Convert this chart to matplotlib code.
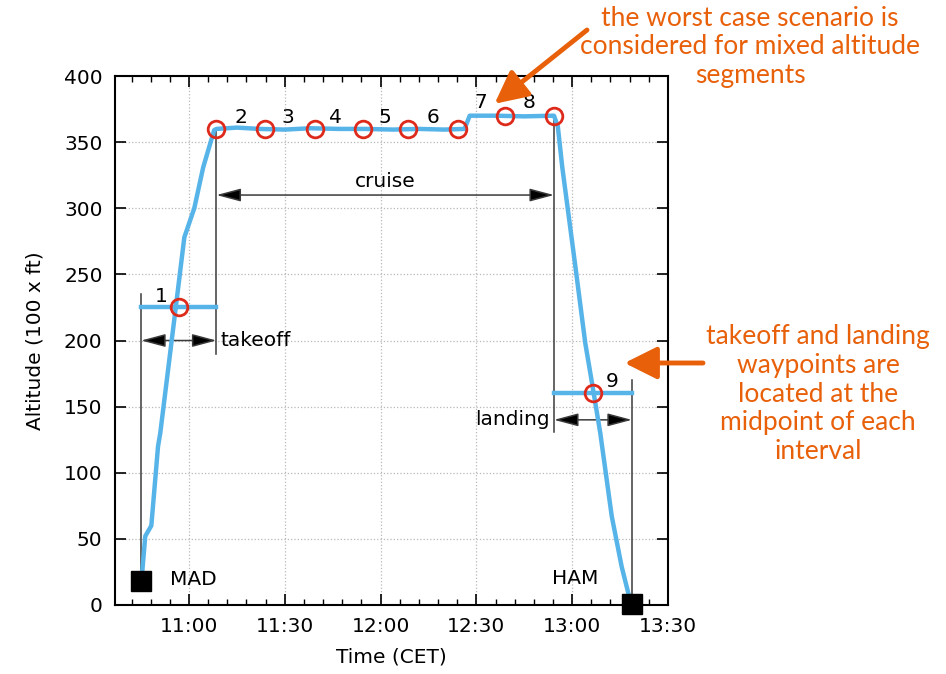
import matplotlib
matplotlib.use("Agg")
import matplotlib.pyplot as plt
from matplotlib.ticker import FuncFormatter, MultipleLocator


def to_min(hms):
    # "HH:MM:SS" -> minutes after midnight
    h, m, s = (int(v) for v in hms.split(":"))
    return h * 60 + m + s / 60.0


# flight profile MAD -> HAM
profile_time = ["10:45:00", "10:46:18", "10:48:12", "10:50:18", "10:51:00", "10:55:39",
                "10:58:32", "11:01:39", "11:04:27", "11:07:52", "11:08:36",
                "11:15:00", "11:22:00", "11:30:00", "11:38:00", "11:47:00", "11:55:00",
                "12:04:00", "12:12:00", "12:20:00", "12:26:18", "12:27:54",
                "12:36:00", "12:45:00", "12:54:18",
                "12:55:30", "12:56:54", "13:01:00", "13:04:06", "13:06:12", "13:08:48",
                "13:12:24", "13:15:30", "13:18:24"]
profile_alt = [15, 52, 60, 120, 130, 221,
               278, 300, 331, 359, 360,
               361, 360, 359.5, 360.5, 360, 360,
               359.5, 360, 359.5, 360, 370,
               370, 369.5, 370,
               362, 331, 256, 198, 168, 130,
               67, 29, 1]

# waypoints (red circles)
wp_time = ["10:56:48", "11:08:36", "11:23:48", "11:39:24", "11:54:24", "12:08:30",
           "12:24:12", "12:39:00", "12:54:18", "13:06:30"]
wp_alt = [225, 360, 360, 360, 360, 360, 360, 370, 370, 160]

# waypoint numbers
lbl_text = ["1", "2", "3", "4", "5", "6", "7", "8", "9"]
lbl_time = ["10:51:12", "11:16:24", "11:31:06", "11:46:00", "12:01:12", "12:16:30",
            "12:31:24", "12:46:30", "13:12:24"]
lbl_alt = [233, 369, 369, 369, 369, 369, 380, 380, 169]

# airports
apt_name = ["MAD", "HAM"]
apt_time = ["10:45:00", "13:18:42"]
apt_alt = [18, 1]
apt_lbl_time = ["10:54:00", "12:53:48"]
apt_lbl_alt = [19, 20]

# takeoff / landing intervals
takeoff_start, takeoff_end, takeoff_alt = "10:45:00", "11:08:36", 225
landing_start, landing_end, landing_alt = "12:54:18", "13:18:42", 160

blue = "#56b4e9"
orange = "#e8600a"
dim = "#3a3a3a"
fs = 14.5

fig = plt.figure(figsize=(9.46, 6.74), dpi=100)
ax = fig.add_axes([0.1216, 0.1024, 0.5845, 0.7848])

t = [to_min(v) for v in profile_time]
ax.plot(t, profile_alt, color=blue, lw=3.2, zorder=3, solid_joinstyle='round')

# takeoff and landing segments
for a, b, alt in [(takeoff_start, takeoff_end, takeoff_alt), (landing_start, landing_end, landing_alt)]:
    ax.plot([to_min(a), to_min(b)], [alt, alt], color=blue, lw=3.2, zorder=3)

ax.plot([to_min(v) for v in wp_time], wp_alt, 'o', ms=12, mfc='none', mec='#dd2a1b', mew=2.0, zorder=5)
ax.plot([to_min(v) for v in apt_time], apt_alt, 's', ms=14, color='black', zorder=6, clip_on=False)

for s, tt, al in zip(lbl_text, lbl_time, lbl_alt):
    ax.text(to_min(tt), al, s, fontsize=fs, ha='center', va='center')

for name, tt, al in zip(apt_name, apt_lbl_time, apt_lbl_alt):
    ax.text(to_min(tt), al, name, fontsize=fs, ha='left', va='center')

# dimension lines
t0, t1 = to_min(takeoff_start), to_min(takeoff_end)
l0, l1 = to_min(landing_start), to_min(landing_end)
vlines = [(t0, 18, 235), (t1, 190, 360), (l0, 131, 370), (l1, 0, 170)]
for x, y0, y1 in vlines:
    ax.plot([x, x], [y0, y1], color=dim, lw=1.1, zorder=2)


def span(x0, x1, y):
    ax.annotate('', xy=(x0, y), xytext=(x1, y),
                arrowprops=dict(arrowstyle='<|-|>,head_length=1.5,head_width=0.4',
                                mutation_scale=10, color=dim, fc='black', lw=1.1,
                                shrinkA=0, shrinkB=0), zorder=2)


span(t0, t1, 200)
ax.text(t1 + 1.4, 200, "takeoff", fontsize=fs, ha='left', va='center')
span(t1, l0, 310)
ax.text((t1 + l0) / 2, 320, "cruise", fontsize=fs, ha='center', va='center')
span(l0, l1, 140)
ax.text(l0 - 1.4, 140, "landing", fontsize=fs, ha='right', va='center')

# axes styling
ax.set_xlim(to_min("10:36:50"), to_min("13:30:00"))
ax.set_ylim(0, 400)
ax.xaxis.set_major_locator(MultipleLocator(30))
ax.xaxis.set_minor_locator(MultipleLocator(6))
ax.xaxis.set_major_formatter(FuncFormatter(lambda v, p: "%d:%02d" % (int(round(v)) // 60, int(round(v)) % 60)))
ax.yaxis.set_major_locator(MultipleLocator(50))
ax.tick_params(which='both', direction='in', top=True, right=True, labelsize=fs, pad=9)
ax.tick_params(which='major', length=8, width=1.2)
ax.tick_params(which='minor', length=4, width=1.0)
for sp in ax.spines.values():
    sp.set_linewidth(1.5)
ax.grid(True, which='major', linestyle=':', color='#b8b8b8', lw=0.9)
ax.set_axisbelow(True)
ax.set_xlabel("Time (CET)", fontsize=fs, labelpad=8)
ax.set_ylabel("Altitude (100 x ft)", fontsize=fs, labelpad=14)

# notes
fig.text(750 / 946, 1 - 47 / 674, "the worst case scenario is\nconsidered for mixed altitude\nsegments",
         family='Lato', fontsize=19, color=orange, ha='center', va='center', linespacing=1.18)
fig.text(818 / 946, 1 - 394 / 674, "takeoff and landing\nwaypoints are\nlocated at the\nmidpoint of each\ninterval",
         family='Lato', fontsize=19, color=orange, ha='center', va='center', linespacing=1.18)

note_arrow = dict(arrowstyle='-|>,head_length=0.9,head_width=0.45', mutation_scale=22,
                  color=orange, lw=3.5, shrinkA=0, shrinkB=0)
ax.annotate('', xy=(to_min("12:35:42"), 379), xytext=(587 / 946, 1 - 30 / 674),
            textcoords='figure fraction', arrowprops=note_arrow, annotation_clip=False)
ax.annotate('', xy=(to_min("13:16:24"), 183), xytext=(703 / 946, 1 - 363 / 674),
            textcoords='figure fraction', arrowprops=note_arrow, annotation_clip=False)

fig.savefig("out.png", dpi=100)
